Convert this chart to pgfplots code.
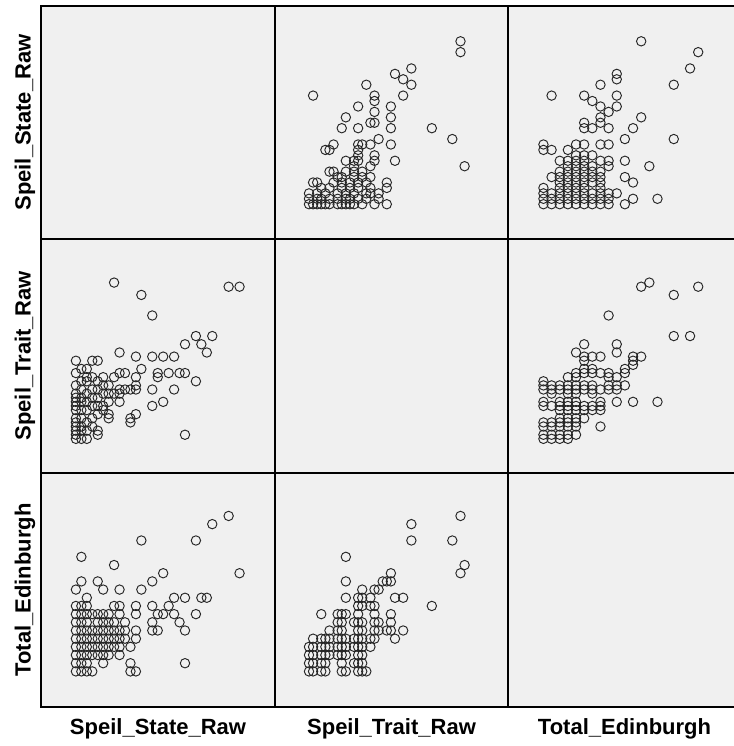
\documentclass[border=0pt]{standalone}
\usepackage{fontspec}
\setmainfont{Liberation Sans}
\usepackage{pgfplots}
\usepackage{pgfplotstable}
\pgfplotsset{compat=1.18}
\definecolor{panelbg}{RGB}{240,240,240}

% Speil_State_Raw (S) vs Speil_Trait_Raw (T)
\pgfplotstableread{
S T
50 57
48 57
45 45
44 41
43 43
42 45
42 34
40 21
40 43
40 36
39 36
38 32
38 40
37 36
36 29
36 40
34 28
34 32
35 35
35 36
34 40
34 50
32 55
32 37
31 26
30 24
30 25
31 32
31 33
31 35
31 40
30 32
29 36
29 32
28 36
28 29
28 31
28 32
28 41
27 35
27 58
27 31
26 25
26 26
26 29
26 31
26 33
25 27
25 28
25 31
25 33
25 35
24 21
24 22
24 26
24 28
24 30
24 32
24 34
24 39
23 23
23 25
23 28
23 30
23 32
23 35
23 39
22 20
22 22
22 24
22 27
22 29
22 31
22 34
22 35
22 37
21 20
21 22
21 23
21 25
21 27
21 29
21 30
21 32
21 34
21 37
20 20
20 21
20 22
20 23
20 24
20 25
20 27
20 28
20 29
20 30
20 31
20 33
20 36
20 39
}\ST

% Speil_State_Raw (S) vs Total_Edinburgh (E)
\pgfplotstableread{
S E
50 12
48 19
45 18
42 16
44 9
43 9
42 7
40 1
40 5
39 6
38 7
40 9
38 9
37 8
36 7
35 7
36 12
35 5
34 5
34 6
34 8
34 11
32 10
32 16
31 0
30 0
30 1
30 3
31 4
31 5
31 7
31 8
29 6
28 7
28 2
28 3
28 4
28 5
28 8
27 8
28 10
27 13
25 10
24 11
21 14
21 11
20 10
22 9
29 4
29 5
27 3
27 4
27 5
27 6
26 2
26 3
26 4
26 5
26 6
26 7
25 1
25 2
25 3
25 4
25 5
25 6
25 7
24 2
24 3
24 4
24 5
24 6
24 7
23 0
23 2
23 3
23 4
23 5
23 7
22 0
22 1
22 2
22 3
22 4
22 5
22 6
22 7
22 8
21 0
21 1
21 2
21 3
21 4
21 5
21 6
21 7
21 8
20 0
20 1
20 2
20 3
20 4
20 5
20 6
20 7
20 8
}\SE

% Speil_Trait_Raw (T) vs Total_Edinburgh (E)
\pgfplotstableread{
T E
57 12
58 13
57 19
55 16
50 8
45 16
45 18
43 9
43 5
41 9
41 4
40 5
40 7
40 11
40 12
39 11
39 5
36 10
33 10
37 10
29 11
29 14
29 9
38 11
20 0
21 0
23 0
24 0
28 0
29 0
32 0
33 0
34 0
20 1
21 1
23 1
24 1
28 1
31 1
32 1
33 1
20 2
21 2
23 2
24 2
25 2
27 2
28 2
29 2
32 2
33 2
20 3
21 3
23 3
24 3
25 3
27 3
28 3
29 3
31 3
32 3
33 3
35 3
21 4
23 4
24 4
25 4
27 4
28 4
29 4
31 4
32 4
33 4
35 4
36 4
25 5
27 5
28 5
32 5
33 5
36 5
37 5
27 6
28 6
31 6
32 6
33 6
36 6
37 6
40 6
23 7
27 7
28 7
29 7
32 7
36 7
32 8
33 8
35 8
36 8
32 9
33 9
35 9
}\TE

\pgfplotsset{
  panel/.style={scale only axis, anchor=south west,
    axis background/.style={fill=panelbg},
    ticks=none, axis line style={black, line width=1.1pt},
    clip=true},
  dots/.style={only marks, mark=o, mark size=4.7pt,
    mark options={line width=0.95pt, draw=black!85}},
}
\newcommand{\Smin}{13.6}\newcommand{\Smax}{56.5}
\newcommand{\Tmin}{11.7}\newcommand{\Tmax}{68.6}
\newcommand{\Emin}{-4.35}\newcommand{\Emax}{24.25}
\newcommand{\Emaxc}{23.64}

\begin{document}
\begin{tikzpicture}
\path[use as bounding box] (0pt,0pt) rectangle (733pt,746pt);

% ---------- Row 1 (y = Speil_State_Raw)
\begin{axis}[panel, at={(41pt,507pt)}, width=234pt, height=233pt,
  xmin=\Smin, xmax=\Smax, ymin=\Smin, ymax=\Smax]
\end{axis}
\begin{axis}[panel, at={(275pt,507pt)}, width=233pt, height=233pt,
  xmin=\Tmin, xmax=\Tmax, ymin=\Smin, ymax=\Smax]
\addplot[dots] table[x=T, y=S] {\ST};
\end{axis}
\begin{axis}[panel, at={(508pt,507pt)}, width=228pt, height=233pt,
  xmin=\Emin, xmax=\Emaxc, ymin=\Smin, ymax=\Smax]
\addplot[dots] table[x=E, y=S] {\SE};
\end{axis}

% ---------- Row 2 (y = Speil_Trait_Raw)
\begin{axis}[panel, at={(41pt,273pt)}, width=234pt, height=234pt,
  xmin=\Smin, xmax=\Smax, ymin=\Tmin, ymax=\Tmax]
\addplot[dots] table[x=S, y=T] {\ST};
\end{axis}
\begin{axis}[panel, at={(275pt,273pt)}, width=233pt, height=234pt,
  xmin=\Tmin, xmax=\Tmax, ymin=\Tmin, ymax=\Tmax]
\end{axis}
\begin{axis}[panel, at={(508pt,273pt)}, width=228pt, height=234pt,
  xmin=\Emin, xmax=\Emaxc, ymin=\Tmin, ymax=\Tmax]
\addplot[dots] table[x=E, y=T] {\TE};
\end{axis}

% ---------- Row 3 (y = Total_Edinburgh)
\begin{axis}[panel, at={(41pt,39pt)}, width=234pt, height=234pt,
  xmin=\Smin, xmax=\Smax, ymin=\Emin, ymax=\Emax]
\addplot[dots] table[x=S, y=E] {\SE};
\end{axis}
\begin{axis}[panel, at={(275pt,39pt)}, width=233pt, height=234pt,
  xmin=\Tmin, xmax=\Tmax, ymin=\Emin, ymax=\Emax]
\addplot[dots] table[x=T, y=E] {\TE};
\end{axis}
\begin{axis}[panel, at={(508pt,39pt)}, width=228pt, height=234pt,
  xmin=\Emin, xmax=\Emaxc, ymin=\Emin, ymax=\Emax]
\end{axis}

% ---------- Labels
\tikzset{lab/.style={font=\bfseries\fontsize{22}{26}\selectfont, inner sep=0pt, anchor=base}}
\node[lab] at (158pt,11.5pt) {Speil\_State\_Raw};
\node[lab] at (391.5pt,11.5pt) {Speil\_Trait\_Raw};
\node[lab] at (624.5pt,11.5pt) {Total\_Edinburgh};
\node[lab, rotate=90] at (30.5pt,623.5pt) {Speil\_State\_Raw};
\node[lab, rotate=90] at (30.5pt,390pt) {Speil\_Trait\_Raw};
\node[lab, rotate=90] at (30.5pt,156pt) {Total\_Edinburgh};
\end{tikzpicture}
\end{document}
